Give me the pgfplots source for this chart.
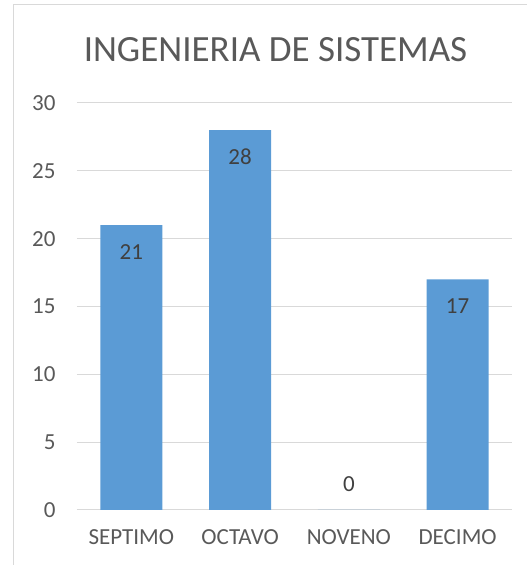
\documentclass[border=0pt]{standalone}
\usepackage{pgfplots}
\pgfplotsset{compat=1.18}
\usepackage{fontspec}
\setmainfont{Carlito}
\definecolor{barblue}{HTML}{5B9BD5}
\definecolor{txtgray}{HTML}{595959}
\definecolor{lblgray}{HTML}{404040}
\definecolor{gridgray}{HTML}{D9D9D9}
\begin{document}
\begin{tikzpicture}
\useasboundingbox (0pt,0pt) rectangle (527pt,565pt);
\draw[gridgray, line width=1pt] (13pt,-10pt) rectangle (540pt,560pt);
\node[txtgray, font=\fontsize{37}{44}\selectfont, anchor=base] at (275.5pt,503.5pt) {INGENIERIA DE SISTEMAS};
\begin{axis}[
  at={(77pt,55pt)}, anchor=south west,
  scale only axis, width=435pt, height=407pt,
  xmin=-0.5, xmax=3.5, ymin=0, ymax=30,
  ytick={0,5,...,30},
  xtick={0,1,2,3},
  xticklabels={SEPTIMO,OCTAVO,NOVENO,DECIMO},
  axis line style={draw=none},
  major tick length=0pt,
  ymajorgrids, grid style={gridgray, line width=1pt},
  ticklabel style={txtgray, font=\fontsize{23}{28}\selectfont},
  /pgf/number format/assume math mode=true,
  yticklabel style={xshift=-18pt},
  xticklabel style={yshift=-16.5pt},
  ybar, bar width=62pt,
]
\addplot[fill=barblue, draw=none, bar shift=0pt,
  nodes near coords,
  every node near coord/.append style={lblgray, font=\fontsize{23}{28}\selectfont, anchor=north, yshift=-15.5pt}]
  coordinates {(0,21) (1,28) (3,17)};
\addplot[fill=barblue, draw=none, bar shift=0pt,
  nodes near coords,
  every node near coord/.append style={lblgray, font=\fontsize{23}{28}\selectfont, anchor=south, yshift=14.5pt}]
  coordinates {(2,0)};
\end{axis}
\end{tikzpicture}
\end{document}
